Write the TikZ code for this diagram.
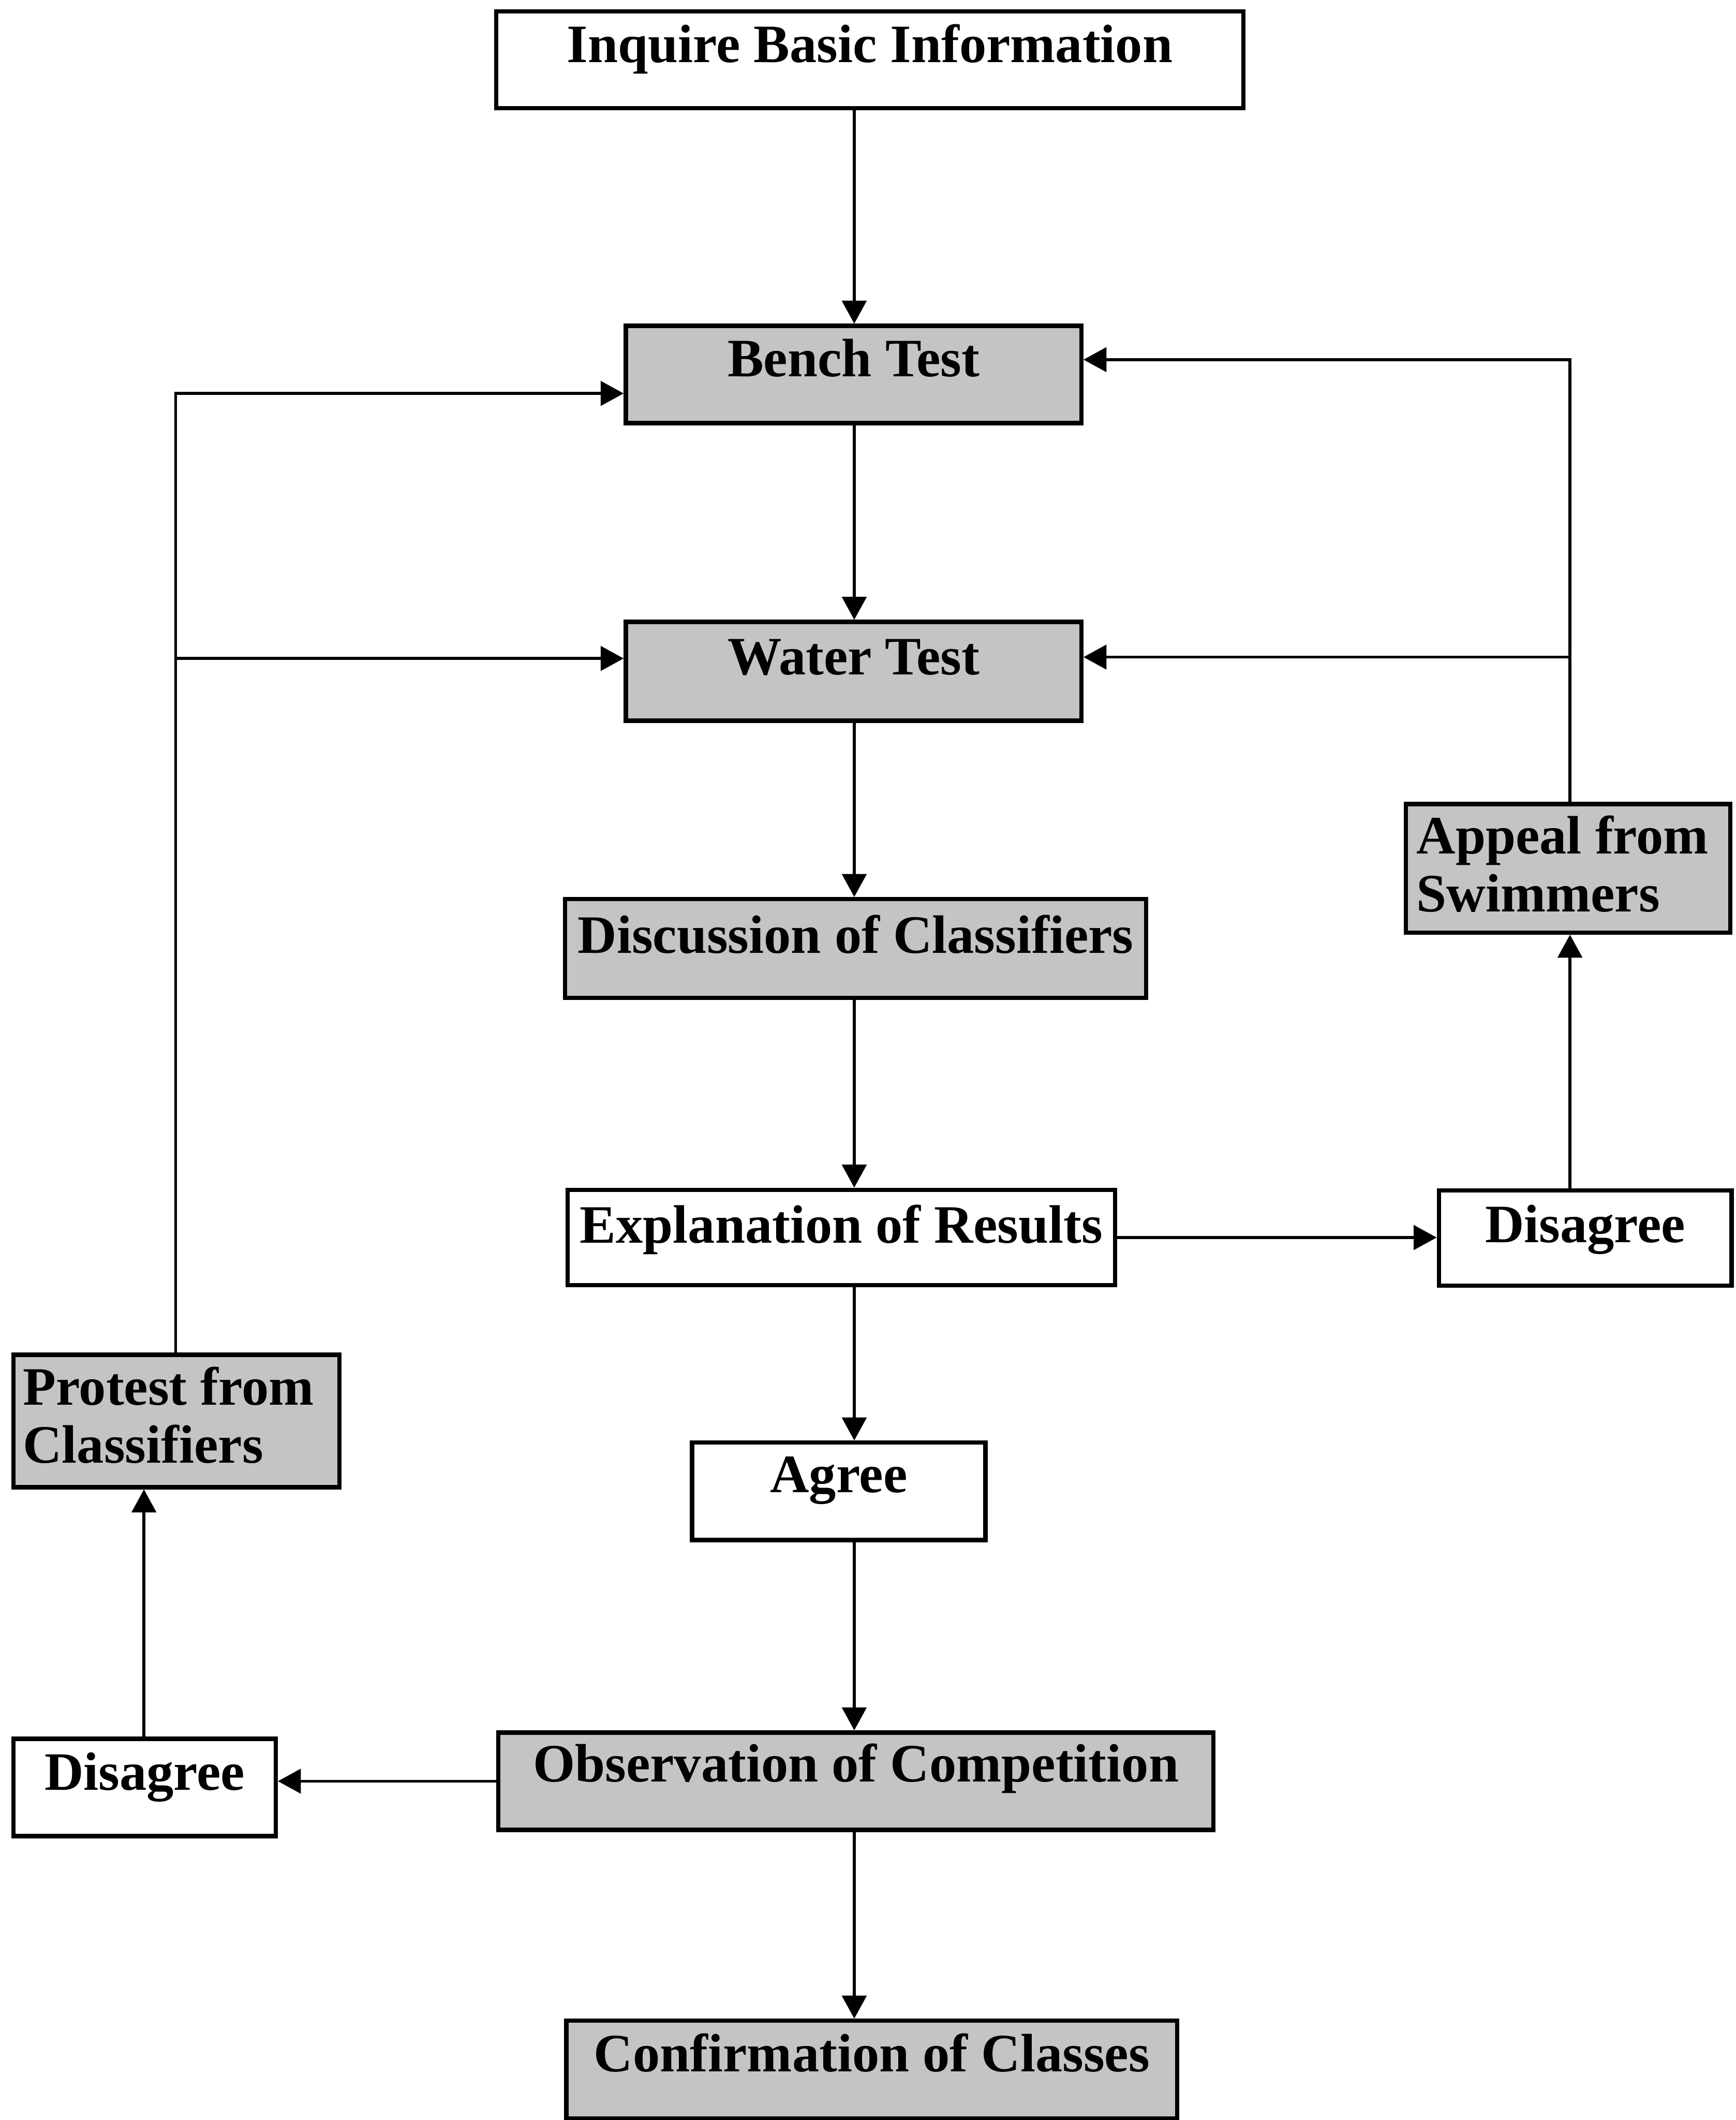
\documentclass[tikz,border=0pt]{standalone}
\usepackage{fontspec}
\setmainfont{Liberation Serif}
\usetikzlibrary{arrows.meta}
\definecolor{boxgray}{RGB}{196,196,196}
\begin{document}
\begin{tikzpicture}[x=1pt,y=-1pt,
  base/.style={draw=black, line width=3.2pt, rectangle, inner sep=0pt,
    font=\bfseries\fontsize{40}{43}\selectfont, text=black},
  wbox/.style={base, fill=white},
  gbox/.style={base, fill=boxgray},
  conn/.style={line width=2.2pt, -{Triangle[length=17pt,width=18pt]}},
  plain/.style={line width=2.2pt}]
\useasboundingbox (0,0) rectangle (1284,1568);
\fill[white] (0,0) rectangle (1284,1568);

% boxes
\node[wbox, minimum width=553pt, text height=37.5pt, text depth=34pt] (inq) at (643.5,44.25) {Inquire Basic Information};
\node[gbox, minimum width=337pt, text height=37.5pt, text depth=34.5pt] (bench) at (631.5,277) {Bench Test};
\node[gbox, minimum width=337pt, text height=39pt, text depth=34pt] (water) at (631.5,496.5) {Water Test};
\node[gbox, minimum width=430pt, text height=40pt, text depth=33pt] (disc) at (633,701.5) {Discussion of Classifiers};
\node[wbox, minimum width=405pt, text height=39.4pt, text depth=31.2pt] (expl) at (622.4,915.3) {Explanation of Results};
\node[wbox, minimum width=216.5pt, text height=38.5pt, text depth=32pt] (disR) at (1172.75,915.75) {Disagree};
\node[gbox, inner xsep=8pt, text height=36.8pt, text depth=58.2pt] (appeal) at (1160,642.2) {\parbox[t]{224pt}{Appeal from\\Swimmers}};
\node[wbox, minimum width=217pt, text height=37pt, text depth=35pt] (agree) at (620.5,1103) {Agree};
\node[gbox, minimum width=529pt, text height=36.6pt, text depth=35.4pt] (obs) at (633.2,1317.4) {Observation of Competition};
\node[gbox, minimum width=452pt, text height=37.4pt, text depth=35pt] (conf) at (645,1530.8) {Confirmation of Classes};
\node[wbox, minimum width=194pt, text height=38pt, text depth=34pt] (disL) at (107,1322) {Disagree};
\node[gbox, inner xsep=7pt, text height=37pt, text depth=61pt] (protest) at (130.5,1051) {\parbox[t]{227pt}{Protest from\\Classifiers}};

% bend points
\coordinate (ax) at (632,0);
\coordinate (rax) at (1161.5,0);
\coordinate (lax) at (106.5,0);
\coordinate (rtop) at (1161.5,266);
\coordinate (rmid) at (1161.5,486);
\coordinate (ltop) at (130,291);
\coordinate (lmid) at (130,487);

% main vertical flow
\draw[conn] (inq.south -| ax) -- (bench.north -| ax);
\draw[conn] (bench.south -| ax) -- (water.north -| ax);
\draw[conn] (water.south -| ax) -- (disc.north -| ax);
\draw[conn] (disc.south -| ax) -- (expl.north -| ax);
\draw[conn] (expl.south -| ax) -- (agree.north -| ax);
\draw[conn] (agree.south -| ax) -- (obs.north -| ax);
\draw[conn] (obs.south -| ax) -- (conf.north -| ax);

% right branch
\draw[conn] (expl.east) -- (expl.east -| disR.west);
\draw[conn] (disR.north -| rax) -- (appeal.south -| rax);
\draw[conn] (appeal.north -| rax) -- (rtop) -- (rtop -| bench.east);
\draw[conn] (rmid) -- (rmid -| water.east);

% left branch
\draw[conn] (obs.west) -- (obs.west -| disL.east);
\draw[conn] (disL.north -| lax) -- (protest.south -| lax);
\draw[conn] (protest.north -| ltop) -- (ltop) -- (ltop -| bench.west);
\draw[conn] (lmid) -- (lmid -| water.west);
\end{tikzpicture}
\end{document}
